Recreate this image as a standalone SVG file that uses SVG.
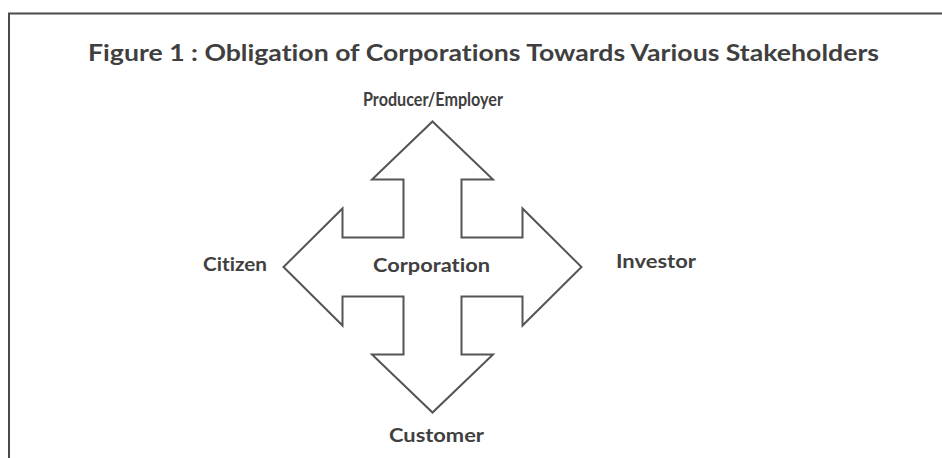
<svg xmlns="http://www.w3.org/2000/svg" width="942" height="458" viewBox="0 0 942 458">
  <style>
    .frame { fill: none; stroke: #4a4a4a; stroke-width: 2; }
    .shape { fill: #ffffff; stroke: #555555; stroke-width: 2; stroke-linejoin: miter; }
    .title { font-family: Lato, "Open Sans", "Liberation Sans", sans-serif; font-weight: bold; font-size: 23px; fill: #3f3f3f; font-variant-ligatures: none; }
    .label { font-family: Lato, "Open Sans", "Liberation Sans", sans-serif; font-weight: bold; font-size: 18px; fill: #404040; font-variant-ligatures: none; }
  </style>
  <rect x="0" y="0" width="942" height="458" fill="#ffffff"/>
  <!-- outer frame: top and left edges only -->
  <path class="frame" d="M9,460 V13.5 H944"/>

  <text class="title" x="88" y="61" textLength="791" lengthAdjust="spacingAndGlyphs">Figure 1 : Obligation of Corporations Towards Various Stakeholders</text>

  <!-- four-way arrow around the corporation -->
  <g id="corporation">
    <polygon class="shape" points="432.5,121.5 493,179.5 461.5,179.5 461.5,237.5 522.5,237.5 522.5,208.5 581.5,267 522.5,325.5 522.5,296.5 461.5,296.5 461.5,354.5 493,354.5 432.5,412.5 372,354.5 403.5,354.5 403.5,296.5 342.5,296.5 342.5,325.5 283.5,267 342.5,208.5 342.5,237.5 403.5,237.5 403.5,179.5 372,179.5"/>
    <text class="label" x="373" y="272" textLength="117" lengthAdjust="spacingAndGlyphs">Corporation</text>
  </g>

  <g id="producer-employer">
    <text class="label" x="363" y="106" textLength="140" lengthAdjust="spacingAndGlyphs">Producer/Employer</text>
  </g>
  <g id="citizen">
    <text class="label" x="203" y="271" textLength="64" lengthAdjust="spacingAndGlyphs">Citizen</text>
  </g>
  <g id="investor">
    <text class="label" x="616" y="268" textLength="80" lengthAdjust="spacingAndGlyphs">Investor</text>
  </g>
  <g id="customer">
    <text class="label" x="389" y="442" textLength="95" lengthAdjust="spacingAndGlyphs">Customer</text>
  </g>

  <g id="connectors"></g>
</svg>
